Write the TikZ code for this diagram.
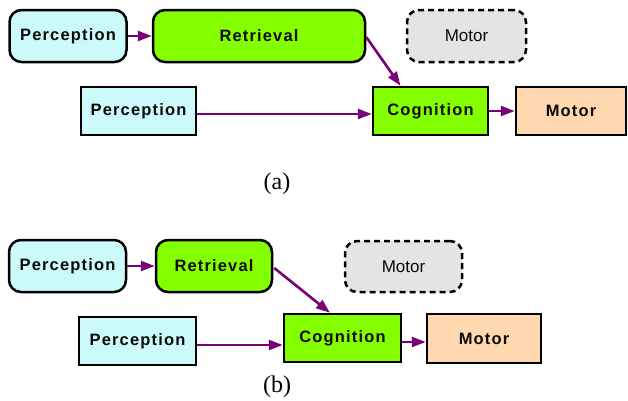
\documentclass[tikz,border=0pt]{standalone}
\usepackage{fontspec}
\setmainfont{Liberation Serif}
\newfontfamily\boxfont[LetterSpace=7]{Liberation Sans}
\newfontfamily\plainfont{Liberation Sans}
\usetikzlibrary{arrows.meta,calc}
\definecolor{cyanbox}{HTML}{CCFAFA}
\definecolor{greenbox}{HTML}{84FF00}
\definecolor{peachbox}{HTML}{FFD8B0}
\definecolor{greybox}{HTML}{E6E3E3}
\definecolor{arrowpurple}{HTML}{780078}
\definecolor{txt}{HTML}{0A0A0A}
\tikzset{
  boxbase/.style={draw=black, line width=2.5pt, text=txt, inner sep=0pt,
    font=\boxfont\bfseries\fontsize{16.5}{19}\selectfont},
  roundbox/.style={boxbase, rounded corners=12pt},
  cyanround/.style={roundbox, fill=cyanbox},
  greenround/.style={roundbox, fill=greenbox},
  cyanrect/.style={boxbase, fill=cyanbox},
  greenrect/.style={boxbase, fill=greenbox},
  peachrect/.style={boxbase, fill=peachbox},
  ghostbox/.style={draw=black, line width=2.5pt, dash pattern=on 6pt off 4pt,
    rounded corners=12pt, fill=greybox, text=txt, inner sep=0pt,
    font=\plainfont\fontsize{17}{20}\selectfont},
  flow/.style={draw=arrowpurple, line width=2.6pt,
    -{Triangle[length=14pt,width=10pt]}},
  caption/.style={font=\fontsize{24}{28}\selectfont, inner sep=0pt}
}
\begin{document}
\begin{tikzpicture}[x=1pt,y=-1pt]
\useasboundingbox (0,0) rectangle (628,400);
% (a)
\node[cyanround, minimum width=117pt, minimum height=52pt] (pa1) at (68,36) {Perception};
\node[greenround, minimum width=212pt, minimum height=52pt] (ra) at (259,36) {Retrieval};
\node[ghostbox, minimum width=119pt, minimum height=52pt] (mda) at (466.5,36) {Motor};
\node[cyanrect, minimum width=115pt, minimum height=48pt] (pa2) at (138.5,111) {Perception};
\node[greenrect, minimum width=115pt, minimum height=48pt] (ca) at (430.5,111) {Cognition};
\node[peachrect, minimum width=110pt, minimum height=48pt] (ma) at (571,111) {Motor};
\coordinate (ca-in) at ($(ca.north)+(-30,0)$);
\coordinate (ra-out) at ($(ra.east)+(0,1)$);
\draw[flow] (pa1.east) -- (ra.west);
\draw[flow] (ra-out) -- (ca-in);
\draw[flow] ($(pa2.east)+(0,3)$) -- ($(ca.west)+(0,3)$);
\draw[flow] (ca.east) -- (ma.west);
\node[caption] (capa) at (277,184) {(a)};
% (b)
\node[cyanround, minimum width=117pt, minimum height=52pt] (pb1) at (67.5,266) {Perception};
\node[greenround, minimum width=116pt, minimum height=52pt] (rb) at (214,266) {Retrieval};
\node[ghostbox, minimum width=117pt, minimum height=51pt] (mdb) at (403.5,266.5) {Motor};
\node[cyanrect, minimum width=117pt, minimum height=48pt] (pb2) at (137.5,341) {Perception};
\node[greenrect, minimum width=117pt, minimum height=48pt] (cb) at (342.5,338) {Cognition};
\node[peachrect, minimum width=114pt, minimum height=49pt] (mb) at (484,338.5) {Motor};
\coordinate (cb-in) at ($(cb.north)+(-12.5,0)$);
\coordinate (rb-out) at ($(rb.east)+(1,2)$);
\coordinate (pb2-out) at ($(pb2.east)+(0,4)$);
\coordinate (cb-left) at ($(cb.west)+(0,7)$);
\draw[flow] (pb1.east) -- (rb.west);
\draw[flow] (rb-out) -- (cb-in);
\draw[flow] (pb2-out) -- (cb-left);
\draw[flow] ($(cb.east)+(0,4)$) -- ($(mb.west)+(0,3.5)$);
\node[caption] (capb) at (277,387) {(b)};
\end{tikzpicture}
\end{document}
